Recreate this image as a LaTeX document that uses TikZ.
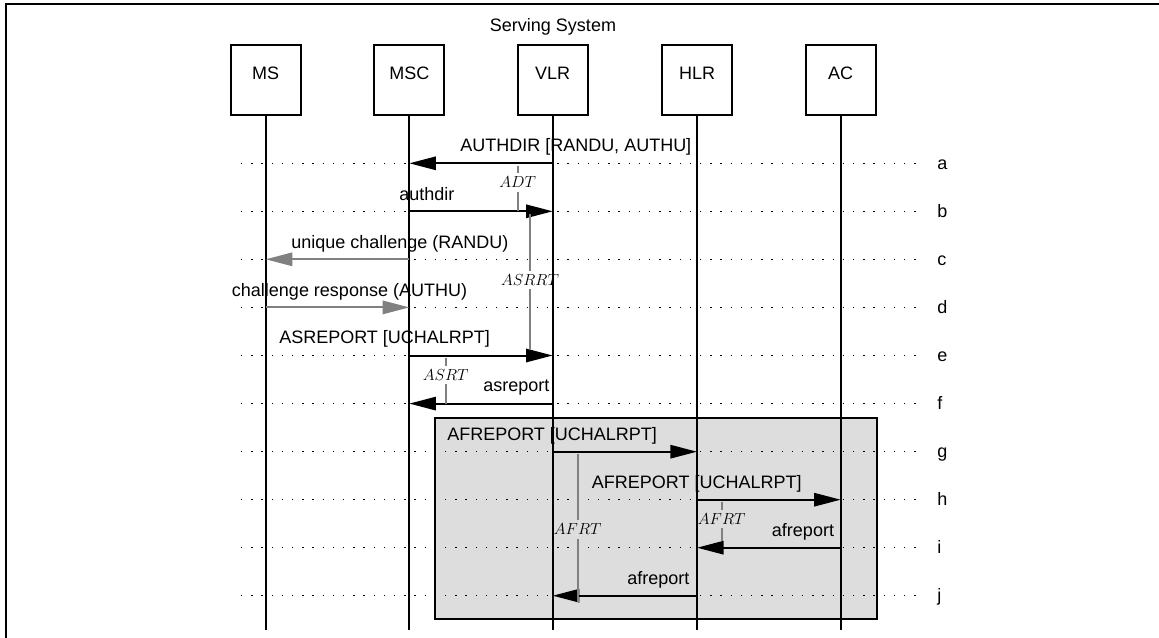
\documentclass[tikz,border=0pt]{standalone}
\usepackage{fontspec}
\setmainfont{Liberation Sans}
\usetikzlibrary{arrows.meta}
\definecolor{boxgray}{HTML}{DDDDDD}
\definecolor{tgray}{HTML}{808080}
\begin{document}
\begin{tikzpicture}[x=0.75pt,y=-0.75pt,
  lbl/.style={inner sep=0pt,font=\fontsize{13.5}{16}\selectfont},
  inst/.style={draw,line width=1.5pt,minimum width=52.5pt,minimum height=52.5pt,inner sep=0pt},
  life/.style={line width=1.5pt},
  msg/.style={line width=1.5pt,-{Triangle[length=20pt,width=10pt]}},
  gmsg/.style={msg,color=tgray},
  dotline/.style={line width=1pt,dash pattern=on 1pt off 6.65pt},
  timer/.style={line width=1.5pt,draw=tgray},
  tlbl/.style={inner sep=0pt,minimum height=13.5pt,font=\fontsize{11.5}{13}\selectfont},
]
\useasboundingbox (0,0) rectangle (1159,638);
\clip (0,0) rectangle (1159,638);
\draw[line width=1.5pt] (5.7,4) rectangle (1200,700);

% grouping box
\draw[line width=1.5pt,fill=boxgray] (435,417.5) rectangle (876.7,619);

% title
\node[lbl,anchor=base] (title) at (553,32) {Serving System};

% rows
\foreach \n/\y in {a/163.3,b/211.3,c/259.3,d/307.4,e/355.5,f/403.6,g/451.7,h/499.7,i/547.7,j/595.7}{
  \coordinate (r\n) at (0,\y);
  \draw[dotline] (241,\y) -- (922,\y);
  \node[lbl,anchor=base west] (lab\n) at (937,\y+6) {\n};
}

% instances
\foreach \n/\x in {MS/265.7,MSC/409.3,VLR/552.7,HLR/697,AC/840.7}{
  \node[inst] (\n) at (\x,80.5) {};
  \node[lbl,anchor=base] (\n-t) at (\x,79.3) {\n};
  \coordinate (\n-end) at (\x,630);
  \draw[life] (\n) -- (\n-end);
}

% messages
\draw[msg] (VLR |- ra) -- (MSC |- ra);
\node[lbl,anchor=base west] (ma) at (460,151.7) {AUTHDIR [RANDU, AUTHU]};
\draw[msg] (MSC |- rb) -- (VLR |- rb);
\node[lbl,anchor=base west] (mb) at (399,200.5) {authdir};
\draw[gmsg] (MSC |- rc) -- (MS |- rc);
\node[lbl,anchor=base west] (mc) at (291,248) {unique challenge (RANDU)};
\draw[gmsg] (MS |- rd) -- (MSC |- rd);
\node[lbl,anchor=base west] (md) at (231.7,296) {challenge response (AUTHU)};
\draw[msg] (MSC |- re) -- (VLR |- re);
\node[lbl,anchor=base west] (me) at (279,343.5) {ASREPORT [UCHALRPT]};
\draw[msg] (VLR |- rf) -- (MSC |- rf);
\node[lbl,anchor=base west] (mf) at (483,391.8) {asreport};
\draw[msg] (VLR |- rg) -- (HLR |- rg);
\node[lbl,anchor=base west] (mg) at (447,440) {AFREPORT [UCHALRPT]};
\draw[msg] (HLR |- rh) -- (AC |- rh);
\node[lbl,anchor=base west] (mh) at (591.7,488) {AFREPORT [UCHALRPT]};
\draw[msg] (AC |- ri) -- (HLR |- ri);
\node[lbl,anchor=base west] (mi) at (771.7,536) {afreport};
\draw[msg] (HLR |- rj) -- (VLR |- rj);
\node[lbl,anchor=base west] (mj) at (627,584.3) {afreport};

% timers
\node[tlbl] (tADT) at (517.7,182.5) {$ADT$};
\coordinate (ADTs) at (517.7,166);
\coordinate (ADTe) at (517.7,211.3);
\draw[timer] (ADTs) -- (tADT.north);
\draw[timer] (tADT.south) -- (ADTe);

\node[tlbl] (tASRRT) at (530,280) {$ASRRT$};
\coordinate (ASRRTs) at (530,214);
\coordinate (ASRRTe) at (530,350);
\draw[timer] (ASRRTs) -- (tASRRT.north);
\draw[timer] (tASRRT.south) -- (ASRRTe);

\node[tlbl] (tASRT) at (445.7,375) {$ASRT$};
\coordinate (ASRTs) at (445.7,358);
\coordinate (ASRTe) at (445.7,404);
\draw[timer] (ASRTs) -- (tASRT.north);
\draw[timer] (tASRT.south) -- (ASRTe);

\node[tlbl] (tAFRTa) at (577.7,529.5) {$AFRT$};
\coordinate (AFRTas) at (577.7,454);
\coordinate (AFRTae) at (577.7,601.5);
\draw[timer] (AFRTas) -- (tAFRTa.north);
\draw[timer] (tAFRTa.south) -- (AFRTae);

\node[tlbl] (tAFRTb) at (721.7,519) {$AFRT$};
\coordinate (AFRTbs) at (721.7,501.7);
\coordinate (AFRTbe) at (721.7,541);
\draw[timer] (AFRTbs) -- (tAFRTb.north);
\draw[timer] (tAFRTb.south) -- (AFRTbe);
\end{tikzpicture}
\end{document}
